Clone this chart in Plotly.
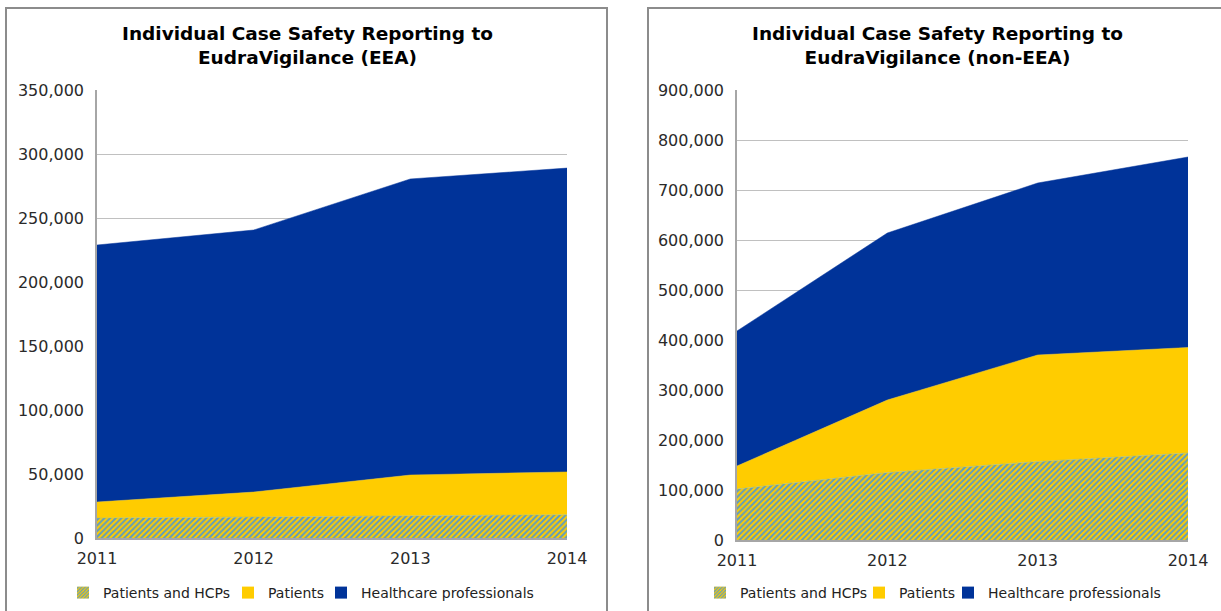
import plotly.graph_objects as go

years = [2011, 2012, 2013, 2014]
series_names = ["Patients and HCPs", "Patients", "Healthcare professionals"]

# EEA
eea_patients_hcps = [15600, 16600, 17200, 18200]
eea_patients = [12500, 19300, 32000, 33400]
eea_hcp = [200800, 204700, 231300, 237400]

# non-EEA
neea_patients_hcps = [102000, 135000, 157000, 174000]
neea_patients = [46000, 145000, 213000, 211000]
neea_hcp = [270000, 334000, 344000, 381000]

titles = ["Individual Case Safety Reporting to<br>EudraVigilance (EEA)",
          "Individual Case Safety Reporting to<br>EudraVigilance (non-EEA)"]

YELLOW = "#FFCC00"
BLUE = "#003399"
STRIPE = "#5E9CC0"
FONT = "DejaVu Sans"

W, H = 1221, 611
fig = go.Figure()

# legend text start positions (pixels) for each panel's entries
legend_text_x = [[103, 268, 361], [740, 899, 988]]


def add_panel(idx, vals):
    xa = "x" if idx == 0 else "x2"
    ya = "y" if idx == 0 else "y2"
    group = "g%d" % idx
    colors = [YELLOW, YELLOW, BLUE]
    for k, (name, v) in enumerate(zip(series_names, vals)):
        kw = dict(x=years, y=v, name=name, mode="lines", stackgroup=group,
                  line=dict(width=0.5, color=["#9DBB80", YELLOW, BLUE][k]),
                  fillcolor=colors[k],
                  xaxis=xa, yaxis=ya, showlegend=False,
                  hoverinfo="x+y+name")
        if k == 0:
            kw["fillpattern"] = dict(shape="/", bgcolor=YELLOW, fgcolor=STRIPE,
                                     size=4, solidity=0.5, fillmode="replace")
        fig.add_trace(go.Scatter(**kw))
    # legend entries (square swatches), each in its own legend box
    for k, name in enumerate(series_names):
        mk = dict(color=colors[k], line=dict(width=0))
        if k == 0:
            mk["pattern"] = dict(shape="/", bgcolor=YELLOW, fgcolor=STRIPE,
                                 size=3, solidity=0.5, fillmode="replace")
        lg_num = idx * 3 + k + 1
        lg_name = "legend" if lg_num == 1 else "legend%d" % lg_num
        fig.add_trace(go.Bar(x=[None], y=[None], name=name, marker=mk,
                             xaxis=xa, yaxis=ya, legend=lg_name,
                             showlegend=True, hoverinfo="skip"))


add_panel(0, [eea_patients_hcps, eea_patients, eea_hcp])
add_panel(1, [neea_patients_hcps, neea_patients, neea_hcp])

axis_common = dict(tickfont=dict(family=FONT, size=16, color="#2A2A2A"),
                   showline=True, linecolor="#A6A6A6", linewidth=1.5,
                   zeroline=False, automargin=False)

xd1 = [97 / W, 567 / W]
xd2 = [737 / W, 1188 / W]
yd1 = [1 - 538 / H, 1 - 90 / H]
yd2 = [1 - 540 / H, 1 - 90 / H]

legend_common = dict(orientation="h", xanchor="left", yanchor="top",
                     font=dict(family=FONT, size=14, color="#222"),
                     bgcolor="rgba(0,0,0,0)", itemwidth=30, traceorder="normal",
                     tracegroupgap=0)

xaxis_extra = dict(ticks="outside", ticklen=5, tickcolor="rgba(0,0,0,0)")
yaxis_extra = dict(ticks="outside", ticklen=8, tickcolor="rgba(0,0,0,0)")

legends = {}
for p in range(2):
    for k in range(3):
        n = p * 3 + k + 1
        key = "legend" if n == 1 else "legend%d" % n
        legends[key] = dict(x=(legend_text_x[p][k] - 40) / W, y=1 - 577 / H,
                            **legend_common)

fig.update_layout(
    width=W, height=H,
    margin=dict(l=0, r=0, t=0, b=0, autoexpand=False),
    paper_bgcolor="white", plot_bgcolor="white",
    font=dict(family=FONT, color="#222"),
    barmode="overlay",
    xaxis=dict(domain=xd1, anchor="y", range=[2011, 2014], tickvals=years,
               ticktext=[str(y) for y in years], showgrid=False,
               **xaxis_extra, **axis_common),
    yaxis=dict(domain=yd1, anchor="x", range=[0, 350000], dtick=50000,
               tickformat=",d", showgrid=True, gridcolor="#C0C0C0", gridwidth=1,
               **yaxis_extra, **axis_common),
    xaxis2=dict(domain=xd2, anchor="y2", range=[2011, 2014], tickvals=years,
                ticktext=[str(y) for y in years], showgrid=False,
                **xaxis_extra, **axis_common),
    yaxis2=dict(domain=yd2, anchor="x2", range=[0, 900000], dtick=100000,
                tickformat=",d", showgrid=True, gridcolor="#C0C0C0", gridwidth=1,
                **yaxis_extra, **axis_common),
    showlegend=True,
    **legends,
)

# Titles
for cx, t in [(307, titles[0]), (937, titles[1])]:
    fig.add_annotation(text="<b>" + t + "</b>", x=cx / W, y=1 - 21 / H,
                       xref="paper", yref="paper", xanchor="center", yanchor="top",
                       showarrow=False, align="center",
                       font=dict(family=FONT, size=18.5, color="#000"))

# Panel borders
for x0, x1 in [(6 / W, 607 / W), (648 / W, 1.05)]:
    fig.add_shape(type="rect", xref="paper", yref="paper",
                  x0=x0, x1=x1, y0=-0.05, y1=1 - 8 / H,
                  line=dict(color="#8C8C8C", width=2), fillcolor="rgba(0,0,0,0)",
                  layer="below")

fig.write_html("out.html",
               config={"displayModeBar": False},
               post_script="document.body.style.margin='0px';"
                           "document.body.style.overflow='hidden';")
